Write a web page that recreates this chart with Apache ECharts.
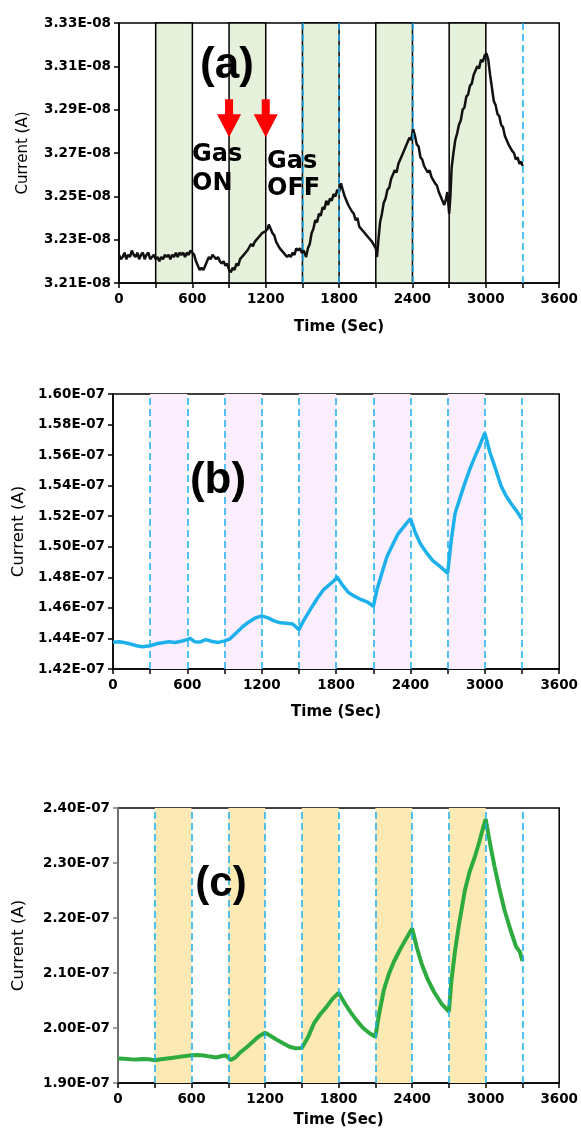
<!DOCTYPE html>
<html lang="en">
<head>
    <meta charset="UTF-8">
    <title>Current vs time</title>
    <script src="https://cdn.jsdelivr.net/npm/echarts@6/dist/echarts.min.js"></script>
    <style>
        body { margin: 0; background: #fff; }
    </style>
</head>
<body>
<div id="main" style="width: 581px;height:1139px;"></div>
<script type="text/javascript">
// (a) current, units of 1E-08 A
var curA = [
    [0,3.223],[15,3.221],[30,3.222],[45,3.224],[60,3.221],[75,3.223],[90,3.222],[105,3.225],[120,3.223],[135,3.222],[150,3.224],
    [165,3.221],[180,3.223],[195,3.224],[210,3.221],[225,3.223],[240,3.224],[255,3.221],[270,3.222],[285,3.223],[300,3.221],
    [315,3.222],[330,3.220],[345,3.222],[360,3.221],[375,3.223],[390,3.222],[405,3.223],[420,3.221],[435,3.223],[450,3.222],
    [465,3.224],[480,3.222],[495,3.224],[510,3.223],[525,3.224],[540,3.222],[555,3.224],[570,3.223],[585,3.225],[600,3.225],
    [615,3.223],[630,3.220],[645,3.218],[660,3.216],[675,3.217],[690,3.216],[705,3.218],[720,3.220],[735,3.222],[750,3.221],
    [765,3.223],[780,3.222],[795,3.221],[810,3.222],[825,3.220],[840,3.219],[855,3.220],[870,3.218],[885,3.219],[900,3.216],
    [915,3.215],[930,3.217],[945,3.216],[960,3.219],[975,3.218],[990,3.221],[1005,3.221],[1020,3.223],[1035,3.223],[1050,3.225],
    [1065,3.225],[1080,3.228],[1095,3.227],[1110,3.229],[1125,3.230],[1140,3.231],[1155,3.232],[1170,3.233],[1185,3.233],[1200,3.234],
    [1215,3.235],[1225,3.237],[1240,3.235],[1255,3.233],[1270,3.232],[1285,3.229],[1300,3.229],[1315,3.226],[1330,3.226],[1345,3.224],
    [1360,3.223],[1375,3.222],[1390,3.223],[1405,3.222],[1420,3.224],[1435,3.223],[1450,3.226],[1465,3.225],[1480,3.226],[1495,3.224],
    [1510,3.225],[1530,3.222],[1545,3.226],[1560,3.228],[1575,3.233],[1590,3.235],[1605,3.239],[1620,3.238],[1635,3.242],[1650,3.241],
    [1665,3.245],[1680,3.244],[1695,3.248],[1710,3.246],[1725,3.249],[1740,3.248],[1755,3.251],[1770,3.250],[1785,3.253],[1800,3.252],
    [1815,3.256],[1830,3.253],[1845,3.250],[1860,3.250],[1875,3.246],[1890,3.246],[1905,3.243],[1920,3.242],[1935,3.239],[1950,3.240],
    [1965,3.236],[1980,3.236],[1995,3.234],[2010,3.233],[2025,3.232],[2040,3.231],[2055,3.231],[2070,3.229],[2085,3.229],[2100,3.226],
    [2110,3.222],[2120,3.229],[2135,3.238],[2150,3.242],[2165,3.247],[2180,3.249],[2195,3.253],[2210,3.254],[2225,3.258],[2240,3.258],
    [2255,3.262],[2270,3.261],[2285,3.265],[2300,3.265],[2315,3.269],[2330,3.269],[2345,3.273],[2360,3.273],[2375,3.277],[2390,3.276],
    [2405,3.281],[2420,3.278],[2435,3.274],[2450,3.273],[2465,3.268],[2480,3.267],[2495,3.264],[2510,3.264],[2525,3.261],[2540,3.262],
    [2555,3.259],[2570,3.259],[2585,3.256],[2600,3.255],[2615,3.252],[2630,3.250],[2645,3.248],[2660,3.246],[2675,3.249],[2685,3.252],
    [2700,3.242],[2710,3.250],[2720,3.263],[2735,3.270],[2750,3.276],[2765,3.279],[2780,3.283],[2795,3.285],[2810,3.290],[2825,3.291],
    [2840,3.296],[2855,3.297],[2870,3.301],[2885,3.302],[2900,3.306],[2915,3.306],[2930,3.310],[2945,3.309],[2960,3.313],[2975,3.312],
    [2990,3.315],[3005,3.316],[3020,3.313],[3035,3.306],[3050,3.300],[3065,3.294],[3080,3.292],[3095,3.288],[3110,3.287],[3125,3.283],
    [3140,3.282],[3155,3.278],[3170,3.278],[3185,3.274],[3200,3.274],[3215,3.271],[3230,3.270],[3245,3.267],[3260,3.268],[3275,3.265],
    [3290,3.266],[3300,3.264]
];
// (b) current, units of 1E-07 A
var curB = [
    [0,1.4375],[50,1.4378],[100,1.4372],[150,1.4362],[200,1.4350],[240,1.4345],[300,1.4352],[350,1.4365],[400,1.4372],[450,1.4378],
    [500,1.4374],[550,1.4382],[600,1.4392],[620,1.4402],[660,1.4378],[700,1.4376],[750,1.4392],[800,1.4380],[850,1.4374],[900,1.4384],
    [940,1.4395],[1000,1.4440],[1050,1.4480],[1100,1.4510],[1150,1.4535],[1200,1.4548],[1210,1.4556],[1250,1.4535],[1300,1.4515],
    [1350,1.4502],[1400,1.4500],[1450,1.4495],[1500,1.4458],[1540,1.4520],[1600,1.4600],[1650,1.4665],[1700,1.4720],[1750,1.4755],
    [1800,1.4790],[1805,1.4805],[1850,1.4750],[1900,1.4700],[1950,1.4675],[2000,1.4655],[2050,1.4640],[2100,1.4610],[2130,1.4720],
    [2170,1.4830],[2210,1.4935],[2260,1.5020],[2300,1.5085],[2350,1.5135],[2400,1.5185],[2440,1.5090],[2480,1.5020],[2530,1.4960],
    [2580,1.4910],[2640,1.4870],[2700,1.4828],[2730,1.5050],[2760,1.5220],[2800,1.5320],[2840,1.5420],[2880,1.5510],[2920,1.5590],
    [2960,1.5665],[3000,1.5745],[3040,1.5620],[3080,1.5525],[3130,1.5400],[3170,1.5335],[3210,1.5285],[3260,1.5230],[3300,1.5180]
];
// (c) current, units of 1E-07 A
var curC = [
    [0,1.9445],[50,1.9440],[100,1.9432],[150,1.9428],[200,1.9436],[250,1.9430],[300,1.9414],[350,1.9430],[400,1.9445],[450,1.9460],
    [500,1.9475],[550,1.9490],[600,1.9505],[650,1.9510],[700,1.9500],[750,1.9480],[800,1.9465],[850,1.9490],[880,1.9500],[920,1.9420],
    [960,1.9470],[1000,1.9560],[1050,1.9650],[1100,1.9750],[1150,1.9850],[1200,1.9915],[1250,1.9850],[1300,1.9780],[1350,1.9720],
    [1400,1.9660],[1450,1.9630],[1500,1.9635],[1550,1.9830],[1600,2.0090],[1650,2.0250],[1700,2.0380],[1750,2.0530],[1800,2.0640],
    [1850,2.0450],[1900,2.0280],[1950,2.0130],[2000,2.0000],[2050,1.9910],[2100,1.9840],[2130,2.0250],[2170,2.0700],[2210,2.0980],
    [2250,2.1200],[2300,2.1420],[2350,2.1620],[2400,2.1810],[2440,2.1450],[2480,2.1150],[2530,2.0870],[2580,2.0650],[2640,2.0440],
    [2700,2.0300],[2720,2.0850],[2750,2.1400],[2780,2.1850],[2830,2.2500],[2870,2.2850],[2910,2.3100],[2950,2.3400],[2980,2.3650],
    [3000,2.3800],[3040,2.3300],[3072,2.2940],[3110,2.2550],[3153,2.2150],[3200,2.1800],[3248,2.1480],[3280,2.1380],[3300,2.1220]
];

var gasOn = [300, 900, 1500, 2100, 2700];
var gasOff = [600, 1200, 1800, 2400, 3000];
var dashA = [1500, 1800, 2400, 3300];
var dashBC = [300, 600, 900, 1200, 1500, 1800, 2100, 2400, 2700, 3000, 3300];
var arrowTimes = [900, 1200];

// [min, max, interval]
var rangeA = [3.21, 3.33, 0.02];
var rangeB = [1.42, 1.60, 0.02];
var rangeC = [1.90, 2.40, 0.10];
var expA = 'E-08';
var expBC = 'E-07';

var myChart = echarts.init(document.getElementById('main'));

var tickFont = { fontFamily: 'DejaVu Sans', fontWeight: 'bold', fontSize: 13.5, color: '#000' };

function areas() {
    return gasOn.map(function (s, i) { return [{ xAxis: s }, { xAxis: gasOff[i] }]; });
}

function xAxisFor(idx, gap) {
    return {
        type: 'value', gridIndex: idx, min: 0, max: 3600, interval: 300,
        name: 'Time (Sec)', nameLocation: 'middle', nameGap: gap,
        nameTextStyle: { fontFamily: 'DejaVu Sans', fontWeight: 'bold', fontSize: 15, color: '#000' },
        axisLine: { lineStyle: { color: '#000', width: 1.5 } },
        axisTick: { length: 5, lineStyle: { color: '#000', width: 1.5 } },
        splitLine: { show: false },
        axisLabel: Object.assign({ margin: 9, formatter: function (v) { return v % 600 === 0 ? v : ''; } }, tickFont)
    };
}

function yAxisFor(idx, range, exp, gap, nameSize, lineColor) {
    return {
        type: 'value', gridIndex: idx, min: range[0], max: range[1], interval: range[2],
        name: 'Current (A)', nameLocation: 'middle', nameGap: gap,
        nameTextStyle: { fontFamily: 'DejaVu Sans', fontSize: nameSize, color: '#000' },
        axisLine: { lineStyle: { color: lineColor, width: 1.5 } },
        axisTick: { length: 5, lineStyle: { color: lineColor, width: 1.5 } },
        splitLine: { show: false },
        axisLabel: Object.assign({ margin: 8, formatter: function (v) { return v.toFixed(2) + exp; } }, tickFont)
    };
}

function dashLines(list) {
    return {
        silent: true, symbol: 'none', label: { show: false },
        lineStyle: { color: '#1ab0f0', type: [7, 4], width: 1.5 },
        data: list.map(function (t) { return { xAxis: t }; })
    };
}

function label(text, x, y, font, align) {
    return {
        type: 'text', x: x, y: y, z: 100,
        style: { text: text, font: font, fill: '#000', align: align, verticalAlign: 'middle' }
    };
}

var option = {
    animation: false,
    grid: [
        { left: 119, top: 23, width: 444, height: 260, show: true, borderColor: '#000', borderWidth: 1.5 },
        { left: 113, top: 394, width: 449, height: 275, show: true, borderColor: '#000', borderWidth: 1.5 },
        { left: 118, top: 808, width: 444, height: 275, show: true, borderColor: '#000', borderWidth: 1.5 }
    ],
    xAxis: [xAxisFor(0, 37), xAxisFor(1, 36), xAxisFor(2, 30)],
    yAxis: [
        yAxisFor(0, rangeA, expA, 88, 15, '#000'),
        yAxisFor(1, rangeB, expBC, 86, 16.5, '#000'),
        yAxisFor(2, rangeC, expBC, 91, 16.5, '#808080')
    ],
    series: [
        {
            type: 'line', xAxisIndex: 0, yAxisIndex: 0, data: curA, showSymbol: false,
            lineStyle: { color: '#111', width: 2.5 },
            markArea: { silent: true, itemStyle: { color: '#e5f1da', borderColor: '#000', borderWidth: 1.5 }, data: areas() },
            markLine: dashLines(dashA),
            markPoint: {
                symbol: 'path://M8,0 L16,0 L16,15 L24,15 L12,38 L0,15 L8,15 Z',
                symbolSize: [24, 38], silent: true, label: { show: false },
                itemStyle: { color: '#ff0000' },
                data: arrowTimes.map(function (t) { return { coord: [t, 3.286] }; })
            }
        },
        {
            type: 'line', xAxisIndex: 1, yAxisIndex: 1, data: curB, showSymbol: false,
            lineStyle: { color: '#1db1ec', width: 3.5 },
            markArea: { silent: true, itemStyle: { color: '#fdeefd' }, data: areas() },
            markLine: dashLines(dashBC)
        },
        {
            type: 'line', xAxisIndex: 2, yAxisIndex: 2, data: curC, showSymbol: false,
            lineStyle: { color: '#2eab3f', width: 4 },
            markArea: { silent: true, itemStyle: { color: '#fde9b4' }, data: areas() },
            markLine: dashLines(dashBC)
        }
    ],
    graphic: [
        label('(a)', 227, 66, 'bold 44px "Liberation Sans"', 'center'),
        label('(b)', 218, 481, 'bold 44px "Liberation Sans"', 'center'),
        label('(c)', 221, 884, 'bold 42px "Liberation Sans"', 'center'),
        label('Gas', 192, 155, 'bold 24px "DejaVu Sans"', 'left'),
        label('ON', 192, 184, 'bold 24px "DejaVu Sans"', 'left'),
        label('Gas', 267, 162, 'bold 24px "DejaVu Sans"', 'left'),
        label('OFF', 267, 189, 'bold 24px "DejaVu Sans"', 'left')
    ]
};

myChart.setOption(option);
</script>
</body>
</html>
